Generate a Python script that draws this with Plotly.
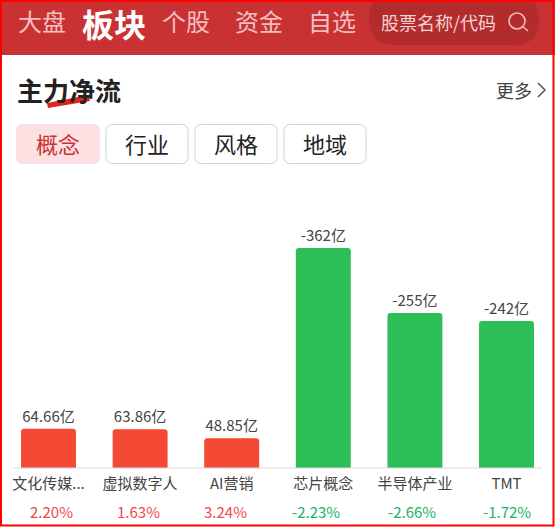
import plotly.graph_objects as go

W, H = 555, 527

categories = ["文化传媒...", "虚拟数字人", "AI营销", "芯片概念", "半导体产业", "TMT"]
net_flow = [64.66, 63.86, 48.85, -362, -255, -242]
flow_labels = ["64.66亿", "63.86亿", "48.85亿", "-362亿", "-255亿", "-242亿"]
pct_labels = ["2.20%", "1.63%", "3.24%", "-2.23%", "-2.66%", "-1.72%"]
nav_items = ["大盘", "板块", "个股", "资金", "自选"]
tab_items = ["概念", "行业", "风格", "地域"]

UP, DOWN = "#F44A35", "#2DBE58"
UP_TXT, DOWN_TXT = "#F0474A", "#22B163"
FONT = "Noto Sans CJK SC"
PCT_SHIFTS = [2.5, -2, -6.7, -7.3, -3.4, 0]


def px(x):
    return x / W


def py(y):
    return 1 - y / H


def rrect(x0, y0, x1, y1, r, fill, line=None, lw=0):
    a, b, c, d = px(x0), py(y0), px(x1), py(y1)
    rx, ry = r / W, r / H
    path = (f"M{a+rx},{b} L{c-rx},{b} Q{c},{b} {c},{b-ry} L{c},{d+ry} Q{c},{d} {c-rx},{d} "
            f"L{a+rx},{d} Q{a},{d} {a},{d+ry} L{a},{b-ry} Q{a},{b} {a+rx},{b} Z")
    return dict(type="path", path=path, xref="paper", yref="paper", fillcolor=fill,
                line=dict(color=line or fill, width=lw), layer="below")


def poly(points, fill):
    path = "M" + " L".join(f"{px(x)},{py(y)}" for x, y in points) + " Z"
    return dict(type="path", path=path, xref="paper", yref="paper", fillcolor=fill,
                line=dict(width=0), layer="below")


def label(x, y, text, size, color, bold=False, anchor="center"):
    t = f"<b>{text}</b>" if bold else text
    return dict(x=px(x), y=py(y), xref="paper", yref="paper", text=t, showarrow=False,
                xanchor=anchor, yanchor="middle",
                font=dict(size=size, color=color, family=FONT))


shapes = [
    dict(type="rect", xref="paper", yref="paper", x0=0, x1=1, y0=py(55), y1=1,
         fillcolor="#C93232", line=dict(width=0), layer="below"),
    rrect(369, -6, 539, 45, 25, "#B32C2C"),
    dict(type="circle", xref="paper", yref="paper", x0=px(509), x1=px(525), y0=py(29), y1=py(13),
         fillcolor="rgba(0,0,0,0)", line=dict(color="#EFBDBD", width=1.6)),
    dict(type="line", xref="paper", yref="paper", x0=px(522), x1=px(528), y0=py(26), y1=py(31),
         line=dict(color="#EFBDBD", width=1.6)),
    poly([(47, 103), (88.5, 95), (90, 101), (48, 108)], "#E32222"),
    dict(type="path", xref="paper", yref="paper",
         path=f"M{px(538)},{py(83)} L{px(545)},{py(90)} L{px(538)},{py(97)}",
         line=dict(color="#555555", width=1.5)),
    rrect(16, 124, 100, 164, 7, "#FDE1E2"),
    rrect(106, 124.5, 188, 163.5, 7, "#FFFFFF", "#D4D4D4", 1),
    rrect(195, 124.5, 277, 163.5, 7, "#FFFFFF", "#D4D4D4", 1),
    rrect(284, 124.5, 366, 163.5, 7, "#FFFFFF", "#D4D4D4", 1),
    dict(type="line", xref="paper", yref="paper", x0=px(13), x1=px(542), y0=py(468), y1=py(468),
         line=dict(color="#D9D9D9", width=1.2)),
    dict(type="rect", xref="paper", yref="paper", x0=px(1), x1=px(553.5), y0=py(525.5), y1=py(1),
         fillcolor="rgba(0,0,0,0)", line=dict(color="#FF0000", width=2)),
]

annotations = [
    label(41.5, 21, nav_items[0], 24, "#F1C0C0"),
    label(114, 23, nav_items[1], 32, "#FFFFFF", bold=True),
    label(186, 21, nav_items[2], 24, "#F1C0C0"),
    label(258.5, 21, nav_items[3], 24, "#F1C0C0"),
    label(332, 21, nav_items[4], 24, "#F1C0C0"),
    label(378.5, 22, "股票名称/代码", 18, "#F3D3D3", anchor="left"),
    label(68.5, 89, "主力净流", 26, "#222222", bold=True),
    label(514, 90, "更多", 18, "#444444"),
    label(58, 143, tab_items[0], 22, "#C93232"),
    label(147, 143, tab_items[1], 22, "#222222"),
    label(236, 143, tab_items[2], 22, "#222222"),
    label(325, 143, tab_items[3], 22, "#222222"),
]
for cat, pct, flow, shift in zip(categories, pct_labels, net_flow, PCT_SHIFTS):
    annotations.append(dict(x=cat, y=py(511), xref="x", yref="paper", text=pct, showarrow=False,
                            yanchor="middle", xshift=shift,
                            font=dict(size=15, family=FONT, color=UP_TXT if flow > 0 else DOWN_TXT)))

fig = go.Figure(go.Bar(
    x=categories,
    y=[abs(v) for v in net_flow],
    width=0.6,
    marker=dict(color=[UP if v > 0 else DOWN for v in net_flow], cornerradius=3, line=dict(width=0)),
    text=flow_labels,
    textposition="outside",
    cliponaxis=False,
    textfont=dict(size=15, color="#444444", family=FONT),
    hoverinfo="skip",
))
fig.update_layout(
    width=W, height=H, margin=dict(l=0, r=0, t=0, b=0, autoexpand=False),
    paper_bgcolor="#FFFFFF", plot_bgcolor="rgba(0,0,0,0)", showlegend=False,
    shapes=shapes, annotations=annotations,
    font=dict(family=FONT),
    xaxis=dict(domain=[2.7 / W, 552.3 / W], type="category", categoryorder="array",
               categoryarray=categories, range=[-0.5, 5.5], showgrid=False, showline=False,
               ticks="", ticklabelstandoff=5,
               tickfont=dict(size=15, color="#444444", family=FONT), fixedrange=True),
    yaxis=dict(domain=[py(468), py(225)], range=[0, 400], visible=False, fixedrange=True),
)
fig.write_html(
    "out.html",
    config={"displayModeBar": False},
    post_script="document.body.style.margin='0';document.documentElement.style.overflow='hidden';",
)
